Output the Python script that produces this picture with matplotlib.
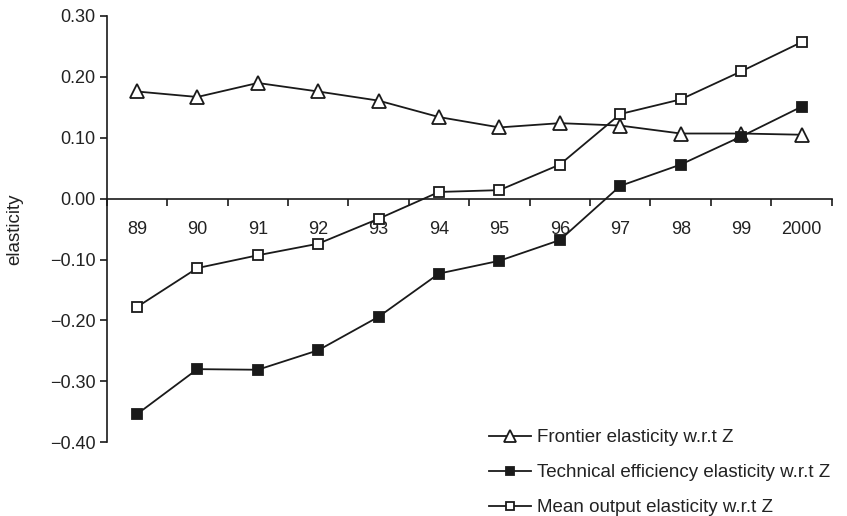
import matplotlib
matplotlib.use("Agg")
import matplotlib.pyplot as plt
import numpy as np

plt.rcParams['font.family'] = ['Liberation Sans', 'DejaVu Sans']

years = ['89', '90', '91', '92', '93', '94', '95', '96', '97', '98', '99', '2000']
frontier = [0.176, 0.167, 0.190, 0.176, 0.161, 0.134, 0.117, 0.124, 0.120, 0.107, 0.107, 0.105]
tech_eff = [-0.354, -0.280, -0.281, -0.249, -0.194, -0.123, -0.102, -0.068, 0.021, 0.056, 0.102, 0.151]
mean_out = [-0.178, -0.114, -0.093, -0.074, -0.033, 0.011, 0.014, 0.056, 0.139, 0.163, 0.209, 0.257]

ink = '#1a1a1a'
txt = '#222222'
x = np.arange(len(years))

fig = plt.figure(figsize=(8.47, 5.16), dpi=100)
ax = fig.add_axes([0.126, 0.143, 0.856, 0.826])

ax.plot(x, frontier, color=ink, lw=1.3, marker='^', ms=9.5, mfc='white', mec=ink, mew=1.3,
        label='Frontier elasticity w.r.t Z')
ax.plot(x, tech_eff, color=ink, lw=1.3, marker='s', ms=7.5, mfc=ink, mec=ink, mew=1.3,
        label='Technical efficiency elasticity w.r.t Z')
ax.plot(x, mean_out, color=ink, lw=1.3, marker='s', ms=7.5, mfc='white', mec=ink, mew=1.3,
        label='Mean output elasticity w.r.t Z')

ax.set_xlim(-0.5, len(years) - 0.5)
ax.set_ylim(-0.40, 0.30)

# axis line at zero, ticks at category boundaries, labels at centres
ax.spines['bottom'].set_position(('data', 0))
ax.spines['top'].set_visible(False)
ax.spines['right'].set_visible(False)
for s in ['left', 'bottom']:
    ax.spines[s].set_color(ink)
    ax.spines[s].set_linewidth(1.2)

ax.set_xticks(np.arange(-0.5, len(years), 1.0))
ax.set_xticklabels([])
ax.set_xticks(x, minor=True)
ax.set_xticklabels(years, minor=True)
ax.tick_params(axis='x', which='major', direction='out', length=5, width=1.2, color=ink)
ax.tick_params(axis='x', which='minor', length=0, pad=16, labelsize=13, labelcolor=txt)

yt = np.arange(-0.40, 0.31, 0.10)
ax.set_yticks(yt)
ax.set_yticklabels([('%.2f' % v).replace('-', '\u2212') if abs(v) > 1e-9 else '0.00' for v in yt])
ax.tick_params(axis='y', direction='out', length=5, width=1.2, color=ink, labelsize=13,
               labelcolor=txt, pad=3)

fig.text(0.017, 0.555, 'elasticity', rotation=90, ha='center', va='center', fontsize=13.5, color=txt)

fig.legend(loc='center left', bbox_to_anchor=(0.577, 0.084), frameon=False, fontsize=13.5,
           handlelength=2.25, handletextpad=0.32, labelspacing=0.95, borderpad=0, borderaxespad=0,
           labelcolor=txt, markerscale=0.85)

fig.savefig('out.png', dpi=100)
